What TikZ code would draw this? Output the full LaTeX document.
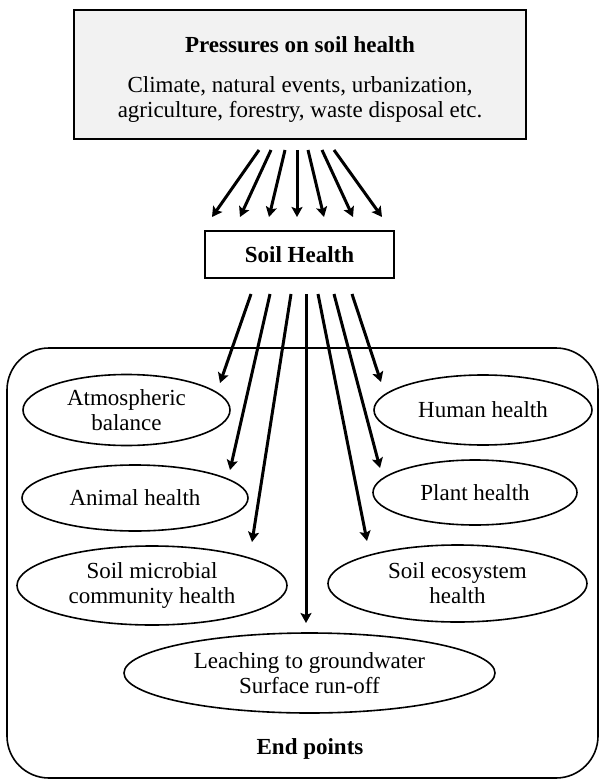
\documentclass[tikz,border=0pt]{standalone}
\usepackage{fontspec}
\setmainfont{Liberation Serif}
\usetikzlibrary{shapes.geometric, arrows.meta, calc}
\definecolor{boxgray}{RGB}{242,242,242}

\begin{document}
\begin{tikzpicture}[
  x=0.5pt, y=-0.5pt,
  font=\fontsize{11.5}{12.5}\selectfont,
  pressure/.style={rectangle, draw, line width=1pt, fill=boxgray, align=center, minimum width=226pt, inner sep=0pt},
  health/.style={rectangle, draw, line width=1pt, font=\fontsize{11.5}{12.5}\selectfont\bfseries, minimum width=94.5pt, minimum height=23.5pt},
  endpoint/.style={ellipse, draw, line width=0.8pt, align=center, inner sep=0pt},
  arrow/.style={draw, line width=1.5pt, -{Stealth[length=5pt, width=5.5pt, inset=1pt]}}
]
\useasboundingbox (0,0) rectangle (599,780);

% End points frame
\node[draw, line width=0.8pt, rounded corners=21pt, minimum width=295.5pt, minimum height=215pt] (endbox) at (302.5,563) {};
\node[font=\fontsize{11.5}{12.5}\selectfont\bfseries] (endlabel) at (310,749) {End points};

% Boxes
\node[pressure, anchor=north] (pressures) at (300,9) {\rule{0pt}{21.5pt}\textbf{Pressures on soil health}\\[7.5pt]Climate, natural events, urbanization,\\agriculture, forestry, waste disposal etc.\rule[-10.5pt]{0pt}{0pt}};
\node[health] (soil) at (299.5,254.5) {Soil Health};

% End point ellipses
\node[endpoint, minimum width=103.5pt, minimum height=35.5pt] (atmo) at (126.5,410) {Atmospheric\\balance};
\node[endpoint, minimum width=113pt, minimum height=33pt] (animal) at (135,498) {Animal health};
\node[endpoint, minimum width=135pt, minimum height=39.5pt] (microbial) at (152,585.5) {Soil microbial\\community health};
\node[endpoint, minimum width=185.5pt, minimum height=40pt] (leaching) at (309.5,673) {Leaching to groundwater\\Surface run-off};
\node[endpoint, minimum width=129.5pt, minimum height=38.5pt] (ecosystem) at (457.5,583.5) {Soil ecosystem\\health};
\node[endpoint, minimum width=102pt, minimum height=32.5pt] (plant) at (475,492.5) {Plant health};
\node[endpoint, minimum width=109pt, minimum height=35pt] (human) at (483,410) {Human health};

% Pressures -> soil health
\draw[arrow] ($(pressures.south)+(-41,10)$) -- ($(soil.north)+(-87.5,-13)$);
\draw[arrow] ($(pressures.south)+(-29,10)$) -- ($(soil.north)+(-59.5,-13)$);
\draw[arrow] ($(pressures.south)+(-15,10)$) -- ($(soil.north)+(-30.5,-13)$);
\draw[arrow] ($(pressures.south)+(-3,10)$) -- ($(soil.north)+(-2.5,-13)$);
\draw[arrow] ($(pressures.south)+(8,10)$) -- ($(soil.north)+(24.5,-13)$);
\draw[arrow] ($(pressures.south)+(22,10)$) -- ($(soil.north)+(53.5,-13)$);
\draw[arrow] ($(pressures.south)+(34,10)$) -- ($(soil.north)+(82.5,-13)$);

% Soil health -> end points
\draw[arrow] ($(soil.south)+(-48.5,15)$) -- ($(atmo)+(93.5,-27)$);
\draw[arrow] ($(soil.south)+(-29.5,15)$) -- ($(animal)+(95,-28)$);
\draw[arrow] ($(soil.south)+(-8.5,15)$) -- ($(microbial)+(100,-43.5)$);
\draw[arrow] ($(soil.south)+(6.5,15)$) -- ($(leaching)+(-3.5,-50)$);
\draw[arrow] ($(soil.south)+(18.5,15)$) -- ($(ecosystem)+(-90.5,-42.5)$);
\draw[arrow] ($(soil.south)+(34.5,15)$) -- ($(plant)+(-95,-24.5)$);
\draw[arrow] ($(soil.south)+(52.5,15)$) -- ($(human)+(-102,-28)$);

\end{tikzpicture}
\end{document}
